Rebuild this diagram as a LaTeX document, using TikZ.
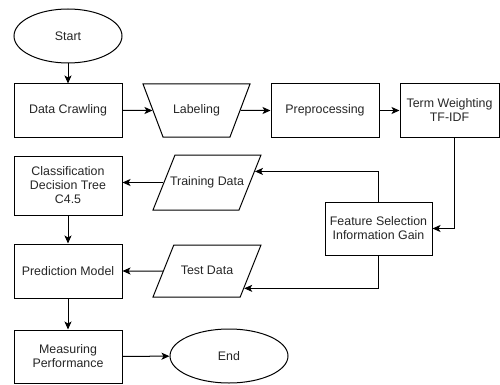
\documentclass[tikz,border=0pt]{standalone}
\usepackage{fontspec}
\setmainfont{Liberation Sans}
\usetikzlibrary{shapes.geometric,arrows.meta}
\begin{document}
\begin{tikzpicture}[x=1pt,y=-1pt,
 base/.style={draw=black,line width=1pt,text=black!85,font=\fontsize{12.4}{14}\selectfont,align=center,inner sep=0pt},
 box/.style={base,rectangle,minimum width=108pt,minimum height=53pt},
 oval/.style={base,ellipse,minimum width=108pt,minimum height=54pt},
 trap/.style={base,trapezium,trapezium stretches body,shape border rotate=180,trapezium left angle=69.3,trapezium right angle=69.3,text height=9pt,text depth=3pt,inner ysep=20.5pt,minimum width=107pt},
 para/.style={base,trapezium,trapezium stretches body,trapezium left angle=68.2,trapezium right angle=111.8,text height=9pt,text depth=3pt,inner ysep=21.5pt,inner xsep=-8pt,minimum width=108pt},
 arr/.style={line width=1pt,draw=black,-{Stealth[length=8pt,width=7pt,inset=2pt]}}]
\fill[white] (0,0) rectangle (500,385);
\useasboundingbox (0,0) rectangle (500,385);

\node[oval] (start) at (68,36) {Start};
\node[box] (crawl) at (68,110.5) {Data Crawling};
\node[trap] (label) at (196.5,110.5) {Labeling};
\node[box] (prep) at (325,110.5) {Preprocessing};
\node[box,minimum width=99pt] (tw) at (449.5,110.5) {Term Weighting\\TF-IDF};
\node[box,minimum width=107pt] (fs) at (378.5,228.5) {Feature Selection\\Information Gain};
\node[para] (train) at (207,182.5) {Training Data};
\node[box,minimum height=59pt] (class) at (68,185.5) {Classification\\Decision Tree\\C4.5};
\node[para,inner ysep=20pt] (test) at (207,271) {Test Data};
\node[box,minimum height=54pt] (pred) at (68,271) {Prediction Model};
\node[box] (meas) at (68,356.5) {Measuring\\Performance};
\node[oval,minimum width=118pt] (end) at (229,356) {End};

\draw[arr] (start) -- (crawl);
\draw[arr] (crawl) -- (label);
\draw[arr] (label) -- (prep);
\draw[arr] (prep) -- (tw);
\draw[arr] ([xshift=4.5pt]tw.south) |- (fs.east);
\draw[arr] (fs.north) |- (train.13.6);
\draw[arr] (fs.south) |- (test.-25.4);
\draw[arr] (train.west) -- (train.west -| class.east);
\draw[arr] (test) -- (pred);
\draw[arr] (class) -- (pred);
\draw[arr] (pred) -- (meas);
\draw[arr] (meas) -- (end);
\end{tikzpicture}
\end{document}
